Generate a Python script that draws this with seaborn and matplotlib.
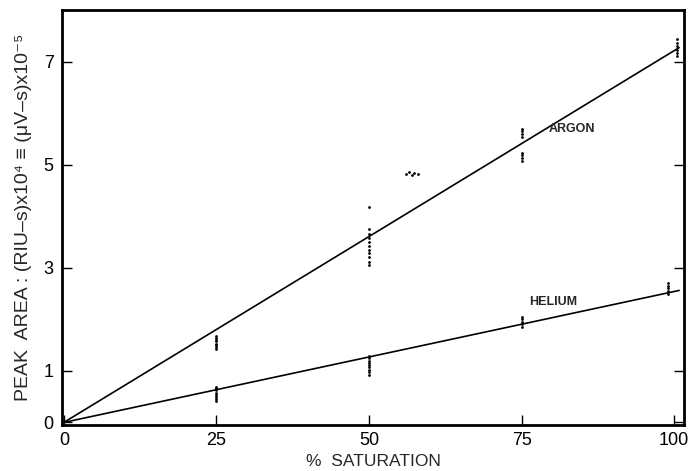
import numpy as np
import pandas as pd
import matplotlib
matplotlib.use("Agg")
import matplotlib.pyplot as plt
import seaborn as sns

# ---- data ----
argon_x = [25]*8 + [50]*11 + [56, 56.6, 57.0, 57.3, 58.0] + [75]*8 + [100.5]*6
argon_y = [1.42, 1.46, 1.50, 1.53, 1.57, 1.60, 1.64, 1.68,
           3.06, 3.12, 3.20, 3.28, 3.35, 3.42, 3.50, 3.58, 3.66, 3.76, 4.17,
           4.82, 4.86, 4.80, 4.84, 4.82,
           5.08, 5.13, 5.18, 5.23, 5.54, 5.60, 5.65, 5.70,
           7.10, 7.16, 7.22, 7.30, 7.36, 7.43]

helium_x = [25]*8 + [50]*9 + [75]*5 + [99]*5
helium_y = [0.42, 0.46, 0.50, 0.54, 0.58, 0.62, 0.66, 0.69,
            0.92, 0.97, 1.02, 1.07, 1.12, 1.16, 1.20, 1.25, 1.29,
            1.85, 1.90, 1.95, 2.00, 2.05,
            2.50, 2.55, 2.60, 2.65, 2.70]

fit_x = [0, 100.8]
argon_fit = [0, 7.27]
helium_fit = [0, 2.56]

x_ticks = [0, 25, 50, 75, 100]
x_tick_labels = ["0", "25", "50", "75", "100"]
y_ticks = [0, 1, 3, 5, 7]
y_tick_labels = ["0", "1", "3", "5", "7"]

sns.set_theme(style="ticks")
plt.rcParams['font.family'] = ['Liberation Sans', 'DejaVu Sans']

fig = plt.figure(figsize=(6.89, 4.71), dpi=100)
ax = fig.add_axes([62/689, 1 - 425/471, (684-62)/689, (425-10)/471])

pts = pd.DataFrame({
    "x": argon_x + helium_x,
    "y": argon_y + helium_y,
    "gas": ["ARGON"]*len(argon_x) + ["HELIUM"]*len(helium_x),
})
fits = pd.DataFrame({
    "x": fit_x + fit_x,
    "y": argon_fit + helium_fit,
    "gas": ["ARGON"]*2 + ["HELIUM"]*2,
})

sns.lineplot(data=fits, x="x", y="y", units="gas", estimator=None,
             color="black", linewidth=1.2, ax=ax, legend=False)
sns.scatterplot(data=pts, x="x", y="y", color="black", marker="o",
                s=4, linewidth=0, ax=ax, legend=False)

ax.set_xlim(-0.3, 101.6)
ax.set_ylim(-0.05, 8.0)
ax.set_xticks(x_ticks)
ax.set_xticklabels(x_tick_labels)
ax.set_yticks(y_ticks)
ax.set_yticklabels(y_tick_labels)
ax.tick_params(direction="in", length=7, width=1, labelsize=13, colors="black",
               right=True, top=False)
ax.tick_params(axis="x", pad=5)
ax.tick_params(axis="y", pad=6)
for s in ax.spines.values():
    s.set_visible(True)
    s.set_linewidth(2)
    s.set_color("black")

ax.set_xlabel("%  SATURATION", fontsize=12.5, labelpad=4)
ax.set_ylabel("PEAK  AREA : (RIU–s)x10⁴ ≡ (μV–s)x10⁻⁵", fontsize=14, labelpad=8)

ax.text(79.5, 5.70, "ARGON", fontsize=9, fontweight="bold", va="center")
ax.text(76.2, 2.34, "HELIUM", fontsize=9, fontweight="bold", va="center")

fig.savefig("out.png", dpi=100)
